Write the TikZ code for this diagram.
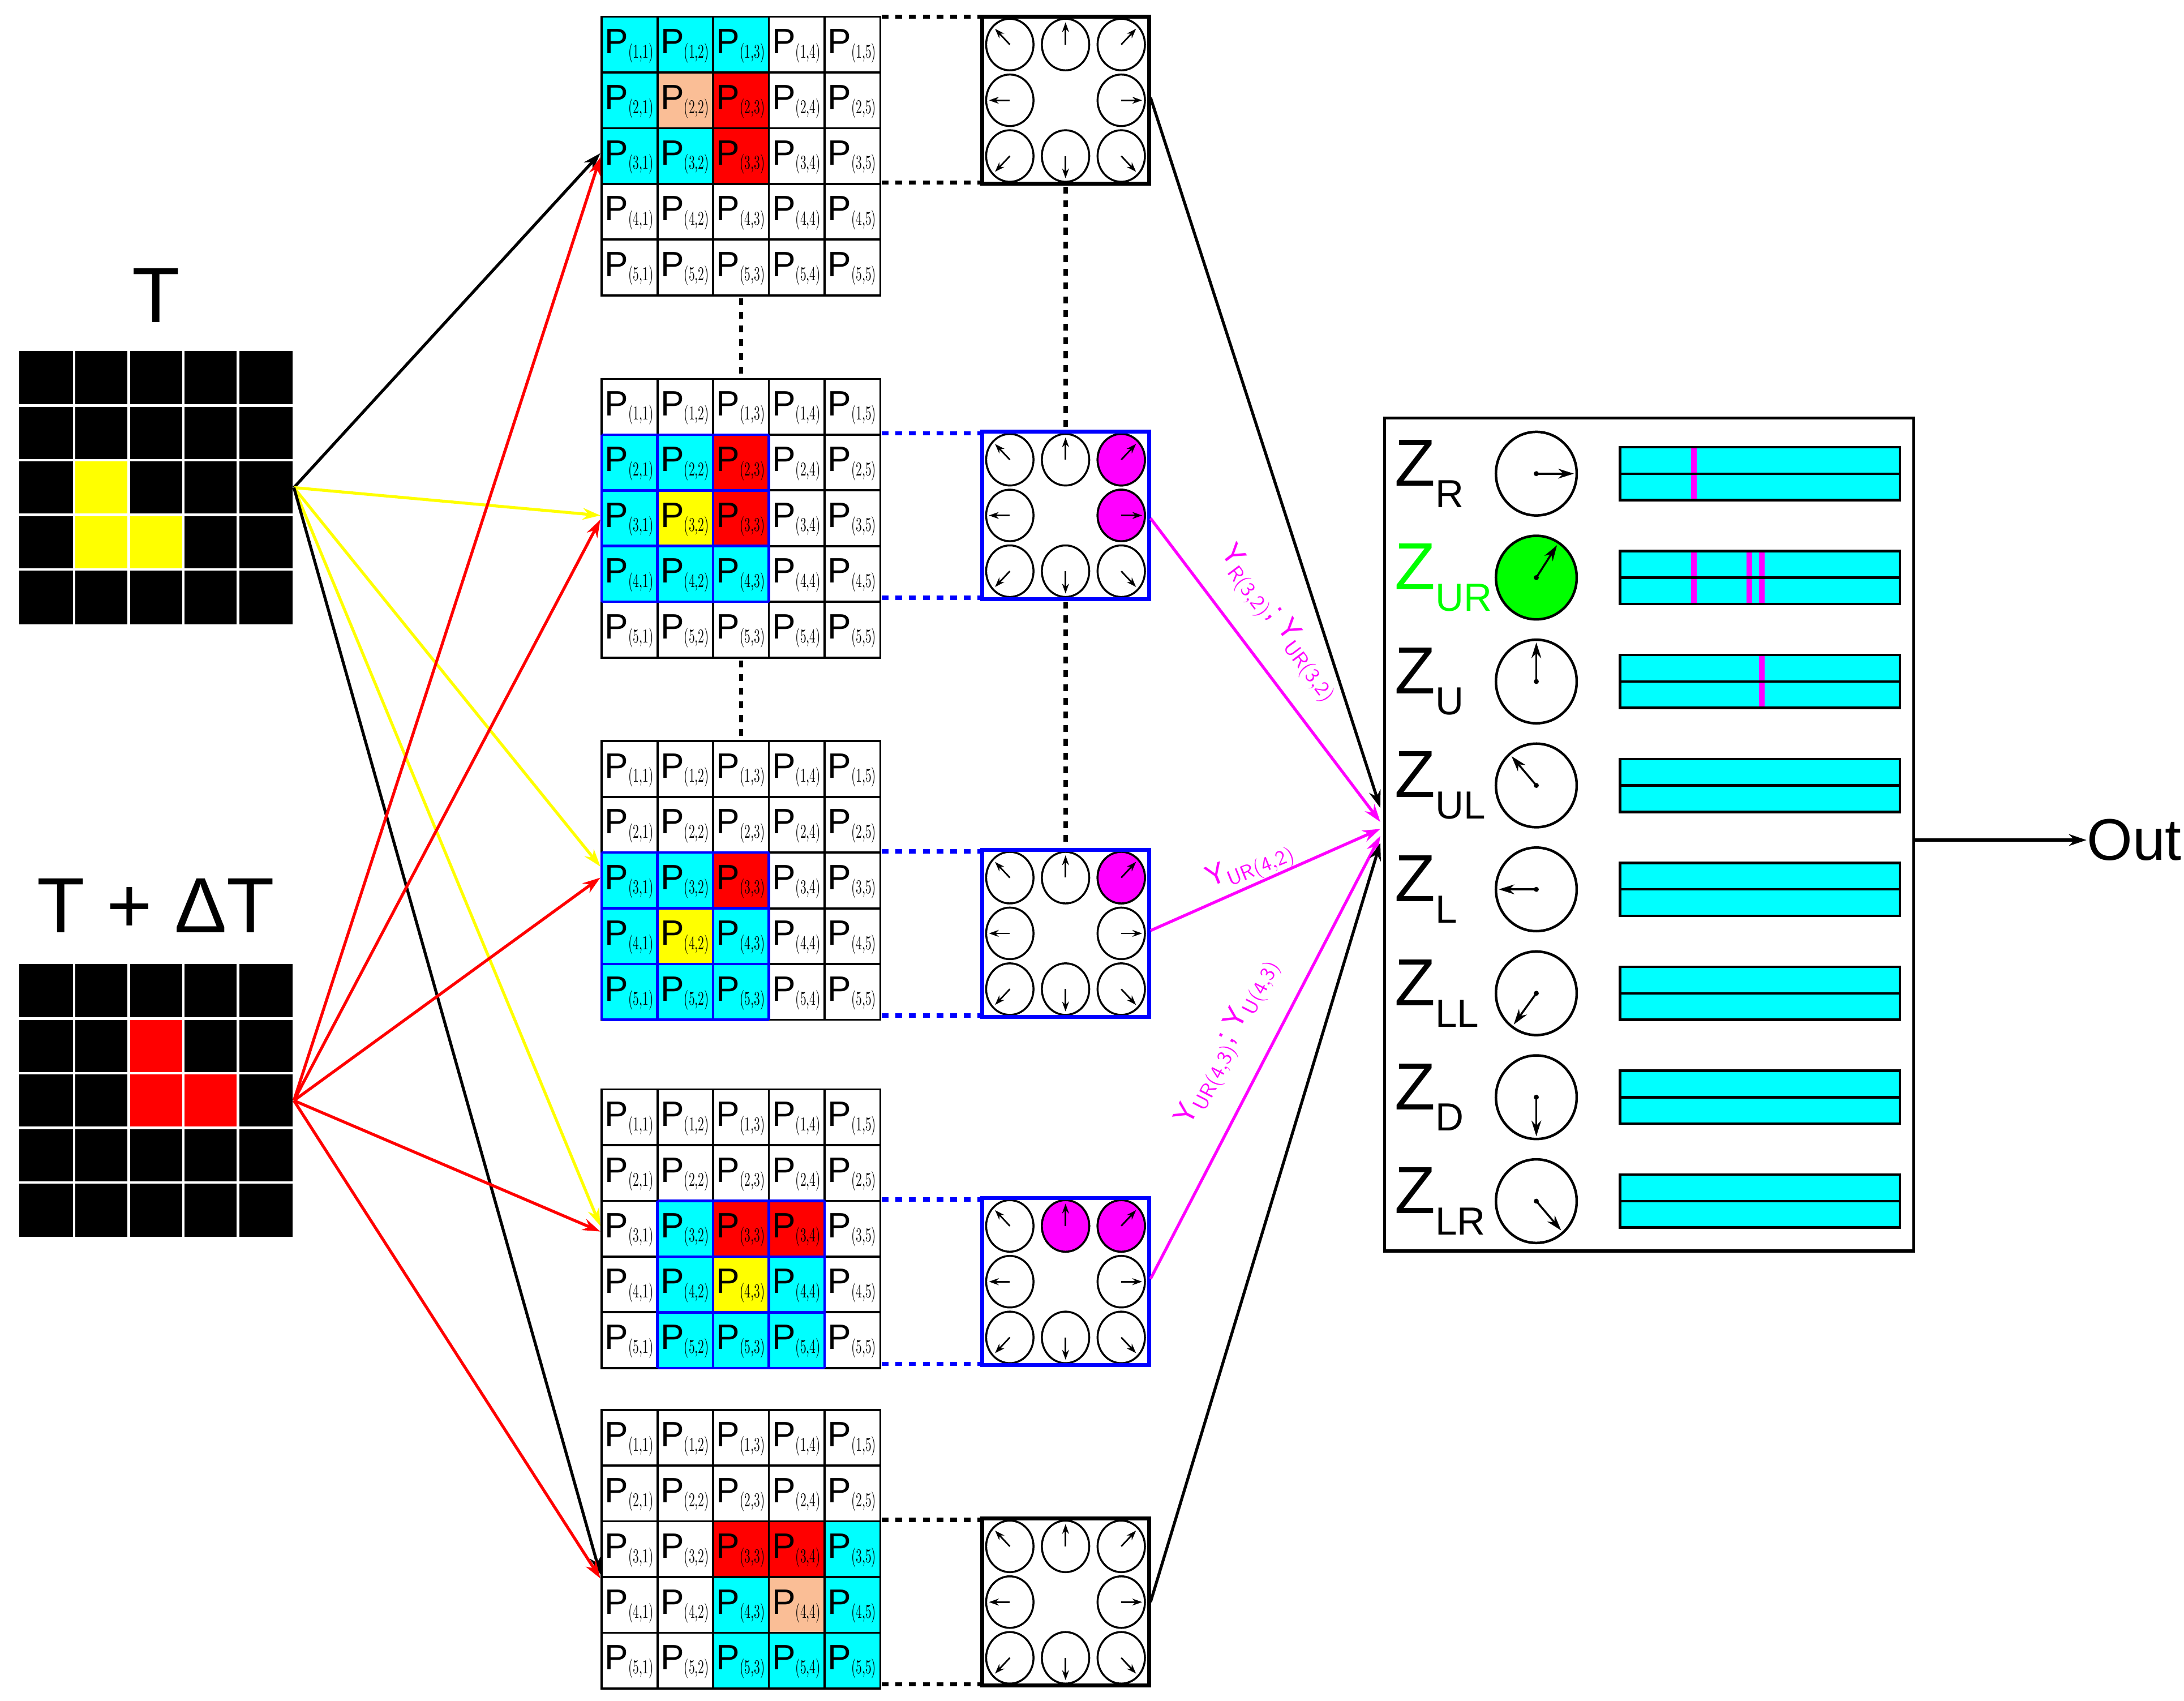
\documentclass[tikz,border=0pt]{standalone}
\usepackage{fontspec}
\newfontfamily\sansf{Liberation Sans}
\usetikzlibrary{arrows.meta}
\definecolor{cy}{RGB}{0,255,255}
\definecolor{rd}{RGB}{255,0,0}
\definecolor{pe}{RGB}{250,190,150}
\definecolor{ye}{RGB}{255,255,0}
\definecolor{mg}{RGB}{255,0,255}
\definecolor{gr}{RGB}{0,255,0}
\definecolor{bl}{RGB}{0,0,255}
\tikzset{
 cellline/.style={black,line width=1.1pt},
 plab/.style={inner sep=0pt,anchor=west},
 conn/.style={line width=1.5pt,-{Stealth[length=9pt,width=6pt]}},
 dots/.style={line width=2.2pt,dash pattern=on 3.5pt off 3.5pt},
 ylab/.style={text=mg,inner sep=1pt,font=\sansf\fontsize{15}{15}\selectfont},
 zlab/.style={inner sep=0pt,anchor=west,font=\sansf\fontsize{34}{34}\selectfont},
 big/.style={inner sep=0pt,font=\sansf\fontsize{40}{40}\selectfont},
}
\newcommand\plabel[2]{{\sansf\fontsize{18}{18}\selectfont P}\raisebox{-0.5ex}{\scalebox{0.62}[1]{\fontsize{10}{10}\selectfont(#1,#2)}}}
\newcommand\pgrid[3]{%
 \foreach \r/\c/\col in {#3} {\fill[\col] ({#1+(\c-1)*40},{#2+(\r-1)*40}) rectangle +(40,40);}
 \foreach \r in {1,...,5} {\foreach \c in {1,...,5} {
  \draw[cellline] ({#1+(\c-1)*40},{#2+(\r-1)*40}) rectangle +(40,40);
  \node[plab] at ({#1+(\c-1)*40+2},{#2+(\r-1)*40+21}) {\plabel{\r}{\c}};}}}
\newcommand\bluebox[2]{%
 \foreach \i in {0,1,2,3} {\draw[bl,line width=1.3pt] ({#1+\i*40},#2) -- ({#1+\i*40},{#2+120});
  \draw[bl,line width=1.3pt] (#1,{#2+\i*40}) -- ({#1+120},{#2+\i*40});}}
\newcommand\dirbox[4]{% x0 y0 bordercolor magenta-list
 \foreach \dx/\dy in {-1/-1,0/-1,1/-1,-1/0,1/0,-1/1,0/1,1/1} {
  \draw[line width=1pt] ({#1+60+40*\dx},{#2+60+40*\dy}) ellipse [x radius=17,y radius=18.5];}
 \foreach \dx/\dy in {#4} {
  \draw[line width=1pt,fill=mg] ({#1+60+40*\dx},{#2+60+40*\dy}) ellipse [x radius=17,y radius=18.5];}
 \foreach \dx/\dy in {-1/-1,0/-1,1/-1,-1/0,1/0,-1/1,0/1,1/1} {
  \pgfmathsetmacro\nn{sqrt(\dx*\dx+\dy*\dy)}
  \draw[line width=0.8pt,-{Stealth[length=5pt,width=3.5pt]}] ({#1+60+40*\dx},{#2+60+40*\dy}) -- ++({15*\dx/\nn},{16*\dy/\nn});}
 \draw[#3,line width=2pt] (#1,#2) rectangle +(120,120);}
\begin{document}
\begin{tikzpicture}[x=0.025cm,y=-0.025cm]
\useasboundingbox (0,0) rectangle (1568,1221);
% left grids
\fill[black] (14,252) rectangle (210,448);
\fill[black] (14,692) rectangle (210,888);
\foreach \r/\c in {3/2,4/2,4/3} \fill[ye] ({14+(\c-1)*39.2},{252+(\r-1)*39.2}) rectangle +(39.2,39.2);
\foreach \r/\c in {2/3,3/3,3/4} \fill[rd] ({14+(\c-1)*39.2},{692+(\r-1)*39.2}) rectangle +(39.2,39.2);
\foreach \i in {1,2,3,4} {
 \draw[white,line width=1.3pt] ({14+\i*39.2},252) -- ({14+\i*39.2},448);
 \draw[white,line width=1.3pt] (14,{252+\i*39.2}) -- (210,{252+\i*39.2});
 \draw[white,line width=1.3pt] ({14+\i*39.2},692) -- ({14+\i*39.2},888);
 \draw[white,line width=1.3pt] (14,{692+\i*39.2}) -- (210,{692+\i*39.2});}
\node[big] (T) at (112,212) {T};
\node[big] (TdT) at (112,650) {T + ΔT};
\coordinate (Tout) at (211,350);
\coordinate (Dout) at (211,790);
% P grids
\pgrid{432}{12}{1/1/cy,1/2/cy,1/3/cy,2/1/cy,3/1/cy,3/2/cy,2/2/pe,2/3/rd,3/3/rd}
\pgrid{432}{272}{2/1/cy,2/2/cy,3/1/cy,4/1/cy,4/2/cy,4/3/cy,2/3/rd,3/3/rd,3/2/ye}
\bluebox{432}{312}
\pgrid{432}{532}{3/1/cy,3/2/cy,4/1/cy,4/3/cy,5/1/cy,5/2/cy,5/3/cy,3/3/rd,4/2/ye}
\bluebox{432}{612}
\pgrid{432}{782}{3/2/cy,4/2/cy,4/4/cy,5/2/cy,5/3/cy,5/4/cy,3/3/rd,3/4/rd,4/3/ye}
\bluebox{472}{862}
\pgrid{432}{1012}{3/5/cy,4/3/cy,4/5/cy,5/3/cy,5/4/cy,5/5/cy,3/3/rd,3/4/rd,4/4/pe}
\coordinate (g1) at (431,110); \coordinate (g2) at (431,370); \coordinate (g3) at (431,622);
\coordinate (g4) at (431,880); \coordinate (g5) at (431,1130);
\coordinate (h1) at (431,113); \coordinate (h2) at (431,373); \coordinate (h3) at (431,630);
\coordinate (h4) at (431,884); \coordinate (h5) at (431,1133);
\draw[dots] (532,214) -- (532,270); \draw[dots] (532,474) -- (532,530);
% direction boxes
\dirbox{705}{12}{black}{}
\dirbox{705}{310}{bl}{1/-1,1/0}
\dirbox{705}{610}{bl}{1/-1}
\dirbox{705}{860}{bl}{0/-1,1/-1}
\dirbox{705}{1090}{black}{}
\draw[dots] (633,12) -- (704,12); \draw[dots] (633,131) -- (704,131);
\draw[dots,bl] (633,311) -- (704,311); \draw[dots,bl] (633,429) -- (704,429);
\draw[dots,bl] (633,611) -- (704,611); \draw[dots,bl] (633,729) -- (704,729);
\draw[dots,bl] (633,861) -- (704,861); \draw[dots,bl] (633,979) -- (704,979);
\draw[dots] (633,1091) -- (704,1091); \draw[dots] (633,1209) -- (704,1209);
\draw[dots] (765,134) -- (765,308); \draw[dots] (765,432) -- (765,608);
\coordinate (b1) at (826,70); \coordinate (b2) at (826,372); \coordinate (b3) at (826,668);
\coordinate (b4) at (826,918); \coordinate (b5) at (826,1150);
% arrows from inputs
\draw[conn] (Tout) -- (g1);
\draw[conn,ye] (Tout) -- (g2);
\draw[conn,ye] (Tout) -- (g3);
\draw[conn,ye] (Tout) -- (g4);
\draw[conn] (Tout) -- (g5);
\foreach \t in {h1,h2,h3,h4,h5} \draw[conn,rd] (Dout) -- (\t);
% Z panel
\draw[line width=1.5pt] (994,300) rectangle (1374,898);
\coordinate (z1) at (991,580); \coordinate (z2) at (991,590); \coordinate (z3) at (991,595);
\coordinate (z4) at (991,600); \coordinate (z5) at (991,605);
\draw[conn] (b1) -- (z1);
\draw[conn,mg] (b2) -- (z2);
\draw[conn,mg] (b3) -- (z3);
\draw[conn,mg] (b4) -- (z4);
\draw[conn] (b5) -- (z5);
\node[ylab,rotate=-53] (y1) at (918,448) {Y$_{\mathsf{R(3,2)}}$; Y$_{\mathsf{UR(3,2)}}$};
\node[ylab,rotate=22] (y2) at (898,622) {Y$_{\mathsf{UR(4,2)}}$};
\node[ylab,rotate=63] (y3) at (882,748) {Y$_{\mathsf{UR(4,3)}}$; Y$_{\mathsf{U(4,3)}}$};
\foreach \k/\s/\dx/\dy/\fc/\tc in {0/R/1/0/white/black,1/UR/0.55/-0.83/gr/gr,2/U/0/-1/white/black,3/UL/-0.66/-0.75/white/black,4/L/-1/0/white/black,5/LL/-0.6/0.8/white/black,6/D/0/1/white/black,7/LR/0.66/0.75/white/black} {
 \pgfmathsetmacro\yy{340+74.6*\k}
 \node[zlab,text=\tc] (zl\k) at (1001,\yy) {Z\raisebox{-0.32em}{\fontsize{20}{20}\selectfont\s}};
 \draw[line width=1.3pt,fill=\fc] (1103,\yy) ellipse [x radius=29,y radius=30];
 \fill (1103,\yy) circle (1.8);
 \draw[line width=1pt,-{Stealth[length=8pt,width=5pt]}] (1103,\yy) -- ++({27*\dx},{28*\dy});
 \fill[cy] (1163,{\yy-19}) rectangle (1364,{\yy+19});}
\foreach \x/\k in {1216/0,1216/1,1256/1,1265/1,1265/2} {
 \pgfmathsetmacro\yy{340+74.6*\k}
 \fill[mg] ({\x-2},{\yy-19}) rectangle ({\x+2},{\yy+19});}
\foreach \k in {0,...,7} {
 \pgfmathsetmacro\yy{340+74.6*\k}
 \draw[line width=1.3pt] (1163,{\yy-19}) rectangle (1364,{\yy+19});
 \draw[line width=1.3pt] (1163,\yy) -- (1364,\yy);}
\coordinate (zo) at (1375,603);
\node[inner sep=0pt,anchor=west,font=\sansf\fontsize{30}{30}\selectfont] (out) at (1498,603) {Out};
\draw[conn] (zo) -- (out.west);
\end{tikzpicture}
\end{document}
